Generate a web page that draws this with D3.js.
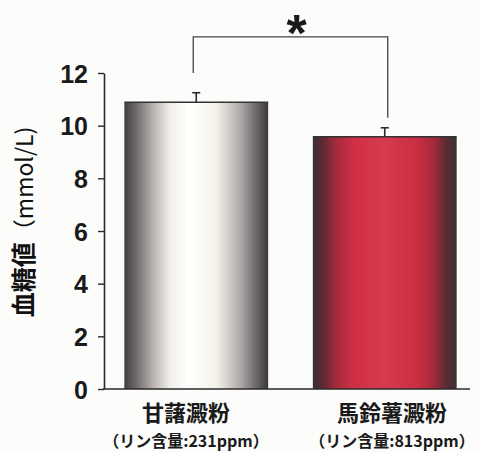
<!DOCTYPE html>
<html>
<head>
<meta charset="utf-8">
<script src="https://cdn.jsdelivr.net/npm/d3@7"></script>
<style>
  html, body { margin: 0; padding: 0; background: #fcfcfb; }
  svg { display: block; }
</style>
</head>
<body>
<svg id="chart" width="479" height="452"></svg>
<script>
// Blood glucose by starch type
const categories = ["甘藷澱粉", "馬鈴薯澱粉"];
const subLabels = ["（リン含量:231ppm）", "（リン含量:813ppm）"];
const means = [10.89, 9.58];
const errors = [0.36, 0.34];
const yTicks = [0, 2, 4, 6, 8, 10, 12];
const bracketEnds = [12.0, 10.3];   // lower ends of the significance bracket legs
const bracketTop = 13.37;
const sigMark = "*";

const svg = d3.select("#chart");
const numFont = "'Liberation Sans', Arial, sans-serif";
const jpFont = "'Noto Sans CJK JP', 'Noto Sans', sans-serif";
const ink = "#2a2a2a";

const y = d3.scaleLinear().domain([0, 12]).range([389, 73]);
const x = d3.scaleBand().domain(categories).range([102, 479])
  .paddingInner(0.237).paddingOuter(0.1185);
const labelX = d3.scalePoint().domain(categories).range([186, 392]);

// Bar gradients
const defs = svg.append("defs");
const gradStops = [
  [[0, "#433e3f"], [0.08, "#6d6868"], [0.2, "#b8b3b0"], [0.32, "#f2f0ea"], [0.45, "#ffffff"],
   [0.64, "#f4f1eb"], [0.8, "#b3aeac"], [0.92, "#6a6566"], [1, "#3b3738"]],
  [[0, "#3a3034"], [0.07, "#5c2a33"], [0.16, "#a42a3c"], [0.28, "#cf2f45"], [0.5, "#d63a4e"],
   [0.72, "#cc2e44"], [0.84, "#a32a3c"], [0.93, "#5a2b33"], [1, "#3a3236"]]
];
gradStops.forEach((stops, i) => {
  const g = defs.append("linearGradient").attr("id", "barGrad" + i)
    .attr("x1", "0%").attr("x2", "100%").attr("y1", "0%").attr("y2", "0%");
  stops.forEach(s => g.append("stop").attr("offset", s[0]).attr("stop-color", s[1]));
});

// Bars
svg.selectAll("rect.bar").data(categories).join("rect")
  .attr("class", "bar")
  .attr("x", d => x(d))
  .attr("width", x.bandwidth())
  .attr("y", (d, i) => y(means[i]))
  .attr("height", (d, i) => y(0) - y(means[i]))
  .attr("fill", (d, i) => `url(#barGrad${i})`);

// Bar top edges
svg.selectAll("line.top").data(categories).join("line")
  .attr("x1", d => x(d)).attr("x2", d => x(d) + x.bandwidth())
  .attr("y1", (d, i) => y(means[i])).attr("y2", (d, i) => y(means[i]))
  .attr("stroke", "#333").attr("stroke-width", 1.5);

// Error bars
const errG = svg.append("g").attr("stroke", ink).attr("stroke-width", 1.6);
categories.forEach((c, i) => {
  const cx = x(c) + x.bandwidth() / 2;
  errG.append("line").attr("x1", cx).attr("x2", cx)
    .attr("y1", y(means[i])).attr("y2", y(means[i] + errors[i]));
  errG.append("line").attr("x1", cx - 4).attr("x2", cx + 4)
    .attr("y1", y(means[i] + errors[i])).attr("y2", y(means[i] + errors[i]));
});

// Y axis
const yAxis = d3.axisLeft(y).tickValues(yTicks).tickSize(6).tickSizeOuter(0).tickPadding(10);
const gy = svg.append("g").attr("transform", "translate(104,0)").call(yAxis);
gy.select(".domain").attr("stroke", ink).attr("stroke-width", 1.6);
gy.selectAll(".tick line").attr("stroke", ink).attr("stroke-width", 1.4);
gy.selectAll(".tick text")
  .attr("fill", "#1a1a1a")
  .style("font-family", numFont)
  .style("font-weight", "bold")
  .style("font-size", "25px")
  .attr("dy", "0.36em");

// X baseline
svg.append("line").attr("x1", 103).attr("x2", 470)
  .attr("y1", y(0)).attr("y2", y(0))
  .attr("stroke", ink).attr("stroke-width", 1.6);

// Y axis title
svg.append("text")
  .attr("transform", "translate(33,222) rotate(-90)")
  .attr("text-anchor", "middle")
  .attr("fill", "#111")
  .call(t => {
    t.append("tspan").text("血糖値")
      .style("font-family", jpFont).style("font-weight", "bold").style("font-size", "25px");
    t.append("tspan").text("（mmol/L)")
      .style("font-family", jpFont).style("font-weight", "normal").style("font-size", "23px");
  });

// Category labels
svg.selectAll("text.cat").data(categories).join("text")
  .attr("class", "cat")
  .attr("x", d => labelX(d)).attr("y", 421)
  .attr("text-anchor", "middle")
  .attr("fill", "#1a1a1a")
  .style("font-family", jpFont).style("font-weight", "bold").style("font-size", "22px")
  .text(d => d);
svg.selectAll("text.sub").data(categories).join("text")
  .attr("class", "sub")
  .attr("x", d => labelX(d)).attr("y", 447)
  .attr("text-anchor", "middle")
  .attr("fill", "#1a1a1a")
  .style("font-family", jpFont).style("font-weight", "bold").style("font-size", "16px")
  .text((d, i) => subLabels[i]);

// Significance bracket
const bx0 = x(categories[0]) + x.bandwidth() / 2 - 3;
const bx1 = x(categories[1]) + x.bandwidth() / 2 + 3;
svg.append("path")
  .attr("d", d3.line()([[bx0, y(bracketEnds[0])], [bx0, y(bracketTop)], [bx1, y(bracketTop)], [bx1, y(bracketEnds[1])]]))
  .attr("fill", "none").attr("stroke", "#444").attr("stroke-width", 1.3);
svg.append("text")
  .attr("x", (bx0 + bx1) / 2 + 6).attr("y", 51)
  .attr("text-anchor", "middle")
  .attr("fill", "#1a1a1a")
  .style("font-family", numFont).style("font-weight", "bold").style("font-size", "52px")
  .text(sigMark);
</script>
</body>
</html>
